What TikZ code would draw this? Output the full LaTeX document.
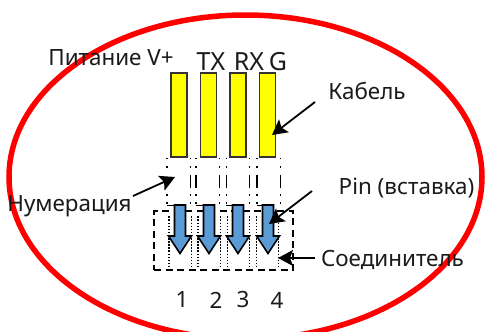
\documentclass[tikz,border=0pt]{standalone}
\usepackage{fontspec}
\setmainfont{Noto Sans}
\usetikzlibrary{shapes.geometric, arrows.meta}
\definecolor{ring_red}{RGB}{255, 0, 0}
\definecolor{cable_yellow}{RGB}{255, 255, 0}
\definecolor{pin_blue}{RGB}{91, 155, 213}
\definecolor{label_gray}{RGB}{26, 26, 26}

\begin{document}
\begin{tikzpicture}[
    x=1pt,
    y=-1pt,
    ring/.style={
        ellipse,
        draw=ring_red,
        line width=5.5pt,
        minimum width=473pt,
        minimum height=324pt,
        inner sep=0pt
    },
    cable/.style={
        rectangle,
        draw=black!80,
        fill=cable_yellow,
        line width=1.4pt,
        minimum width=16pt,
        minimum height=84pt,
        inner sep=0pt
    },
    guide/.style={
        rectangle,
        minimum width=23pt,
        minimum height=47pt,
        inner sep=0pt
    },
    guideline/.style={
        draw=black,
        line width=1.4pt,
        dash pattern=on 1.5pt off 7pt on 1.5pt off 7pt on 13pt off 6.5pt on 1.5pt off 6.5pt on 1.5pt off 20pt
    },
    guidedots/.style={
        draw=black,
        line width=1.4pt,
        dash pattern=on 1.5pt off 7pt on 1.5pt off 26.5pt on 1.5pt off 6.5pt on 1.5pt off 20pt
    },
    socket/.style={
        rectangle,
        minimum width=22pt,
        minimum height=51pt,
        inner sep=0pt
    },
    socketline/.style={
        draw=black,
        line width=1.4pt,
        dash pattern=on 1.5pt off 1.6pt
    },
    connector/.style={
        rectangle,
        draw=black,
        line width=1.5pt,
        dash pattern=on 7pt off 4.5pt,
        minimum width=139pt,
        minimum height=59pt,
        inner sep=0pt
    },
    label/.style={
        text=label_gray,
        inner sep=0pt,
        font=\fontsize{22.4}{26}\selectfont
    },
    wirelabel/.style={
        text=label_gray,
        inner sep=0pt,
        font=\fontsize{25}{28}\selectfont
    },
    pointer/.style={
        -{Stealth[length=15pt,width=16pt,inset=3pt]},
        line width=1.8pt,
        black
    }
]

\useasboundingbox (0,0) rectangle (485,332);
\clip (0,0) rectangle (485,332);

% Red ring behind everything
\node[ring] (ring) at (245.5,177) {};

% Yellow cables with their guide boxes
\foreach \name/\x/\gx in {a/179/178.5,b/208.5/207.5,c/238/238,d/267.5/268.5} {
    \node[guide] (guide\name) at (\gx,181.5) {};
    \node[cable] (cable\name) at (\x,115) {};
    \draw[guideline] (guide\name.north east) -- (guide\name.south east);
    \draw[draw=black, line width=1.4pt] (guide\name.south west) -- ++(8,0);
}
\draw[guidedots] (guidea.north west) -- (guidea.south west);
\foreach \name in {b,c,d} {
    \draw[guideline] (guide\name.north west) -- (guide\name.south west);
}

% Connector body
\node[connector] (connector) at (223.5,240.5) {};

% Pins with dotted sockets
\foreach \name/\x/\sx in {a/180/180,b/209/209,c/238/238.5,d/268/267.5} {
    \node[socket] (socket\name) at (\sx,242) {};
    \draw[socketline] (socket\name.north west) -- (socket\name.south west);
    \draw[socketline] (socket\name.north east) -- (socket\name.south east);
    \draw[draw=black, fill=pin_blue, line width=1.6pt, line join=miter]
        (\x-5.5,205) -- (\x+5.5,205) -- (\x+5.5,236) -- (\x+11.5,236)
        -- (\x,253.5) -- (\x-11.5,236) -- (\x-5.5,236) -- cycle;
}

% Labels
\node[label] (power) at (111,58) {Питание V+};
\node[wirelabel] (tx) at (211,62) {TX};
\node[wirelabel] (rx) at (249,62) {RX};
\node[wirelabel] (g) at (278,62) {G};
\node[label] (cablelabel) at (367,91) {Кабель};
\node[label] (pinlabel) at (406.5,188) {Pin (вставка)};
\node[label] (connectorlabel) at (392.5,260) {Соединитель};
\node[label] (numbering) at (69.5,206) {Нумерация};
\node[label] (one) at (182,300) {1};
\node[label] (two) at (216,300) {2};
\node[label] (three) at (243,300) {3};
\node[label] (four) at (277,300) {4};

% Pointer ends
\coordinate (cablefrom) at (315,102);
\coordinate (cabletip) at (272,135);
\coordinate (pinfrom) at (312,191);
\coordinate (pintip) at (269,224);
\coordinate (connectorfrom) at (315,258);
\coordinate (connectortip) at (278,258);
\coordinate (numberingfrom) at (133,196);
\coordinate (numberingtip) at (175,177);

\draw[pointer] (cablefrom) -- (cabletip);
\draw[pointer] (pinfrom) -- (pintip);
\draw[pointer] (connectorfrom) -- (connectortip);
\draw[pointer] (numberingfrom) -- (numberingtip);

\end{tikzpicture}
\end{document}
